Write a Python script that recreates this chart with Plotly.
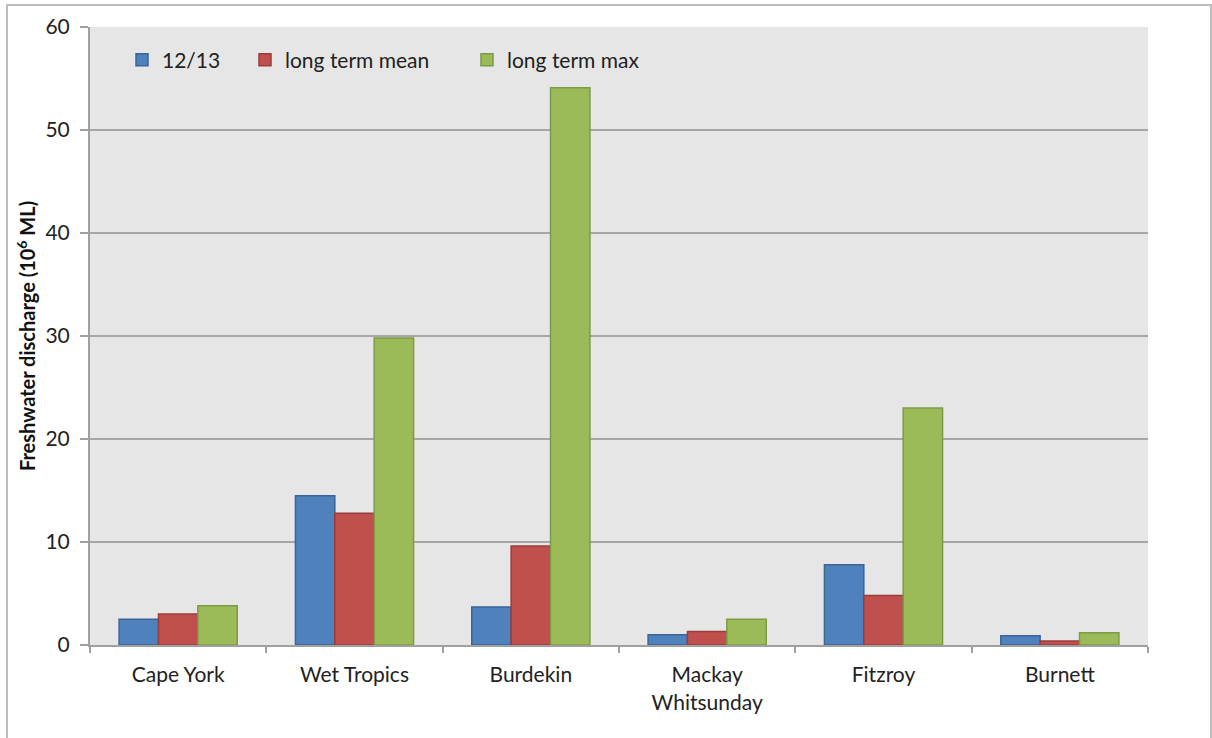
import plotly.graph_objects as go

regions = ["Cape York", "Wet Tropics", "Burdekin", "Mackay<br>Whitsunday", "Fitzroy", "Burnett"]
flow_1213 = [2.5, 14.5, 3.7, 1.0, 7.8, 0.9]
long_term_mean = [3.0, 12.8, 9.6, 1.3, 4.8, 0.4]
long_term_max = [3.8, 29.8, 54.1, 2.5, 23.0, 1.2]

series_names = ["12/13", "long term mean", "long term max"]
fill_colors = ["#4f81bd", "#c0504d", "#9bbb59"]
line_colors = ["#3a6597", "#9c3c3a", "#7d9a45"]

W, H = 1212, 738
L, R, T, B = 90, 1148, 27, 645
FONT = "Lato, 'Open Sans', sans-serif"

def px(x):
    return (x - L) / (R - L)

def py(y):
    return (B - y) / (B - T)

fig = go.Figure()
legend_ids = ["legend", "legend2", "legend3"]
for name, vals, fc, lc, lg in zip(series_names, [flow_1213, long_term_mean, long_term_max],
                                  fill_colors, line_colors, legend_ids):
    fig.add_trace(go.Bar(
        x=regions, y=vals, name=name, legend=lg, showlegend=True,
        marker=dict(color=fc, line=dict(color=lc, width=1.5)),
    ))

legend_style = dict(orientation="h", bgcolor="rgba(0,0,0,0)", borderwidth=0,
                    font=dict(family=FONT, size=21, color="#222"),
                    xanchor="left", yanchor="middle", itemwidth=30, tracegroupgap=0)

fig.update_layout(
    width=W, height=H,
    margin=dict(l=L, r=W - R, t=T, b=H - B),
    paper_bgcolor="white",
    plot_bgcolor="#e6e6e6",
    showlegend=True,
    barmode="group",
    bargap=0.33,
    bargroupgap=0,
    font=dict(family=FONT, size=21, color="#222"),
    legend=dict(x=px(122), y=py(60), **legend_style),
    legend2=dict(x=px(245), y=py(60), **legend_style),
    legend3=dict(x=px(467), y=py(60), **legend_style),
    xaxis=dict(
        showline=True, linecolor="#a0a0a0", linewidth=2,
        ticks="outside", tickson="boundaries", ticklen=6, tickcolor="#a0a0a0", tickwidth=2,
        tickfont=dict(family=FONT, size=21, color="#222"),
        ticklabelstandoff=10,
        showgrid=False,
    ),
    yaxis=dict(
        range=[0, 60], dtick=10,
        showline=True, linecolor="#a0a0a0", linewidth=2,
        ticks="outside", ticklen=8, tickcolor="#a0a0a0", tickwidth=2,
        showgrid=True, gridcolor="#a6a6a6", gridwidth=2,
        zeroline=False,
        tickfont=dict(family=FONT, size=21, color="#222"),
        ticklabelstandoff=6,
        title=dict(text="<b>Freshwater discharge (10<sup>6</sup> ML)</b>",
                   font=dict(family=FONT, size=20, color="#111"), standoff=4),
    ),
    shapes=[dict(type="rect", xref="paper", yref="paper",
                 x0=px(7), x1=px(1211), y0=py(760), y1=py(5),
                 line=dict(color="#bdbdbd", width=2), layer="below")],
)

fig.write_html("out.html")
